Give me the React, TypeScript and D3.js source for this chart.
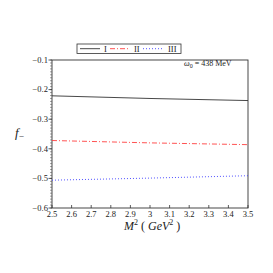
import React from "react";
import * as d3 from "d3";

const M2 = [2.5, 3.0, 3.5];
const seriesI = [-0.221, -0.23, -0.237];
const seriesII = [-0.372, -0.38, -0.386];
const seriesIII = [-0.506, -0.499, -0.491];
const xTicks = [2.5, 2.6, 2.7, 2.8, 2.9, 3.0, 3.1, 3.2, 3.3, 3.4, 3.5];
const yTicks = [-0.1, -0.2, -0.3, -0.4, -0.5, -0.6];
const legendLabels = ["I", "II", "III"];

const W = 273, H = 273;
const left = 52, right = 248, top = 60, bottom = 208;

export default function App() {
  const x = d3.scaleLinear().domain([2.5, 3.5]).range([left, right]);
  const y = d3.scaleLinear().domain([-0.6, -0.1]).range([bottom, top]);
  const line = d3.line<number>().x((_, i) => x(M2[i])).y((d) => y(d));
  const series = [
    { data: seriesI, color: "#333333", dash: "none", w: 0.9 },
    { data: seriesII, color: "#ff4040", dash: "5,2,1,2", w: 0.9 },
    { data: seriesIII, color: "#4040ff", dash: "1,2", w: 0.9 },
  ];
  const minor = d3.range(-0.6, -0.0999, 0.01);
  const font = "Liberation Serif, Times New Roman, serif";
  const legendItems = [
    { x1: 80, x2: 100, tx: 104 },
    { x1: 110, x2: 130, tx: 134 },
    { x1: 143, x2: 163, tx: 168 },
  ];
  return (
    <svg width={W} height={H} style={{ position: "absolute", left: 0, top: 0, fontFamily: font }}>
      <rect x={0} y={0} width={W} height={H} fill="white" />
      {/* legend */}
      <rect x={77} y={44} width={104} height={9.5} fill="white" stroke="#333" strokeWidth={0.8} />
      {legendItems.map((it, i) => (
        <g key={i}>
          <line x1={it.x1} x2={it.x2} y1={48.7} y2={48.7} stroke={series[i].color} strokeWidth={0.9} strokeDasharray={series[i].dash} />
          <text x={it.tx} y={51.5} fontSize={8.5} fill="#222" style={{ fontFamily: font }}>{legendLabels[i]}</text>
        </g>
      ))}
      {/* plot frame */}
      <rect x={left} y={top} width={right - left} height={bottom - top} fill="none" stroke="#333" strokeWidth={0.9} />
      {minor.map((v, i) => (
        <line key={"m" + i} x1={left - 2} x2={left} y1={y(v)} y2={y(v)} stroke="#444" strokeWidth={0.5} />
      ))}
      {yTicks.map((v) => (
        <g key={"y" + v}>
          <line x1={left - 3.5} x2={left} y1={y(v)} y2={y(v)} stroke="#333" strokeWidth={0.8} />
          <text x={left - 4} y={y(v) + 2.8} fontSize={8.5} textAnchor="end" fill="#222" style={{ fontFamily: font }}>{"\u2212" + (-v).toFixed(1)}</text>
        </g>
      ))}
      {xTicks.map((v) => (
        <g key={"x" + v}>
          <line x1={x(v)} x2={x(v)} y1={bottom} y2={bottom - 3} stroke="#333" strokeWidth={0.8} />
          <text x={x(v)} y={bottom + 8.5} fontSize={8.5} textAnchor="middle" fill="#222" style={{ fontFamily: font }}>{v === 3 ? "3" : v.toFixed(1)}</text>
        </g>
      ))}
      {series.map((s, i) => (
        <path key={"s" + i} d={line(s.data) || ""} fill="none" stroke={s.color} strokeWidth={s.w} strokeDasharray={s.dash} />
      ))}
      <text x={184} y={66} fontSize={8} fill="#222" style={{ fontFamily: font }}>
        <tspan fontStyle="italic">ω</tspan>
        <tspan fontSize={6} dy={1.5}>0</tspan>
        <tspan dy={-1.5}>{" = 438 MeV"}</tspan>
      </text>
      <text x={15} y={137} fontSize={13} fontStyle="italic" fill="#222" style={{ fontFamily: font }}>
        f<tspan fontSize={9} dy={2} fontStyle="normal">−</tspan>
      </text>
      <text x={124} y={230} fontSize={12} fontStyle="italic" fill="#222" style={{ fontFamily: font }}>
        M<tspan fontSize={8} dy={-5} fontStyle="normal">2</tspan>
        <tspan dy={5} fontStyle="normal">{" ( "}</tspan>
        <tspan>GeV</tspan>
        <tspan fontSize={8} dy={-5} fontStyle="normal">2</tspan>
        <tspan dy={5} fontStyle="normal">{" )"}</tspan>
      </text>
    </svg>
  );
}
